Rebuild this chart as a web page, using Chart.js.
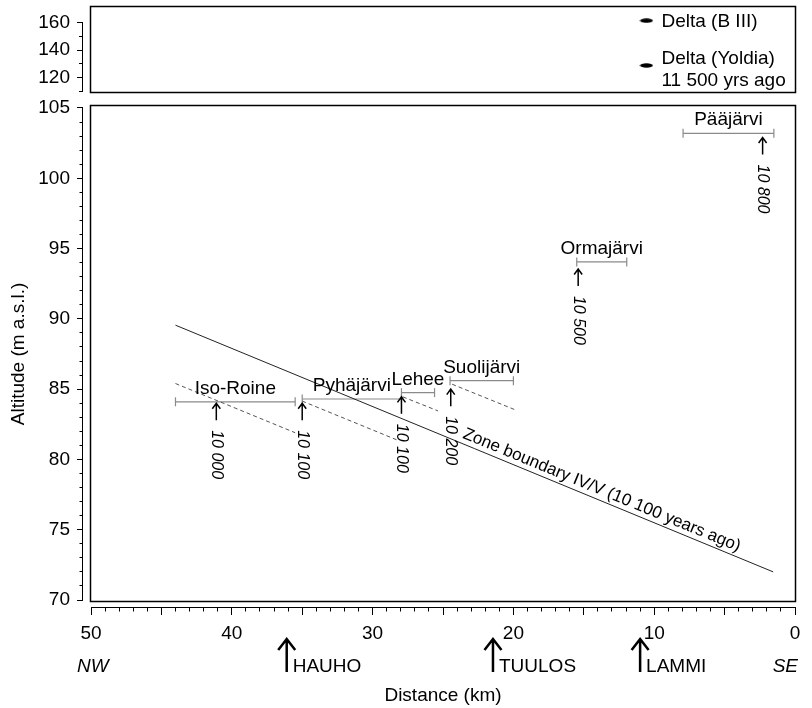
<!DOCTYPE html>
<html>
<head>
<meta charset="utf-8">
<script src="https://cdn.jsdelivr.net/npm/chart.js@4.4.1/dist/chart.umd.min.js"></script>
<style>
  html, body { margin: 0; padding: 0; background: #fff; }
  #wrap { width: 812px; height: 708px; }
</style>
</head>
<body>
<div id="wrap"><canvas id="profileChart" width="812" height="708"></canvas></div>
<script>
// lakes: range bar (distance from / to, km) and water level (m a.s.l.)
const lakes = ['Iso-Roine', 'Pyhäjärvi', 'Lehee', 'Suolijärvi', 'Ormajärvi', 'Pääjärvi'];
const lakeFrom = [44.0, 35.0, 27.95, 24.5, 15.5, 7.95];
const lakeTo = [35.5, 27.95, 25.6, 20.0, 11.95, 1.5];
const lakeLevel = [84.1, 84.3, 84.75, 85.6, 94.05, 103.2];

// dated shorelines (dashed)
const shoreFrom = [44.0, 35.0, 27.85, 24.35];
const shoreTo = [35.5, 28.3, 25.35, 19.8];
const shoreAltFrom = [85.4, 84.15, 84.45, 85.35];
const shoreAltTo = [81.9, 81.4, 83.45, 83.5];

// zone boundary IV/V
const zoneDist = [44.0, 1.55];
const zoneAlt = [89.55, 72.0];
const zoneLabel = 'Zone boundary IV/V (10 100 years ago)';
const zoneLabelDist = 14.0;

// dates (years ago) with arrow tips
const dateLabels = ['10 000', '10 100', '10 100', '10 200', '10 500', '10 800'];
const dateDist = [41.1, 35.0, 27.95, 24.45, 15.4, 2.3];
const dateAlt = [84.0, 84.0, 84.45, 85.0, 93.55, 102.9];

// deltas (upper panel)
const deltaLabels = [['Delta (B III)'], ['Delta (Yoldia)', '11 500 yrs ago']];
const deltaDist = [10.55, 10.55];
const deltaAlt = [161.5, 128.9];

// places under the distance axis
const towns = ['HAUHO', 'TUULOS', 'LAMMI'];
const townDist = [36.1, 21.45, 11.0];

// ticks
const xTicks = [50, 45, 40, 35, 30, 25, 20, 15, 10, 5, 0];
const xTickLabels = [50, 40, 30, 20, 10, 0];
const yTicks = [70, 75, 80, 85, 90, 95, 100, 105];
const yTopTicks = [120, 140, 160];
const yTopMinorTicks = [110, 130, 150];

const FONT = '"Liberation Sans", Arial, Helvetica, sans-serif';
const W = 812, H = 708;
const AREA = { left: 83, right: 795, top: 6, bottom: 607 };

// axis ranges from pixel anchors
function rangeFor(v1, p1, v2, p2) {
  const k = (p1 - p2) / (v2 - v1);
  return { min: v1 - (AREA.bottom - p1) / k, max: v2 + (p2 - AREA.top) / k };
}
const X_MAX = 50 * (AREA.right - AREA.left) / (AREA.right - 91);
const yMain = rangeFor(70, 600, 105, 108);
const yUp = rangeFor(120, 77.7, 160, 22.7);
const FRAME_X = [50.07, 0];
const FRAME_MAIN = [69.96, 105.22];
const FRAME_TOP = [109.5, 172.1];

function dash(w, h) {
  const c = document.createElement('canvas');
  c.width = w; c.height = h;
  const g = c.getContext('2d');
  g.fillStyle = '#000';
  g.beginPath();
  g.ellipse(w / 2, h / 2, w / 2 - 0.5, h / 2 - 0.3, 0, 0, Math.PI * 2);
  g.fill();
  return c;
}

const pts = (xs, ys) => xs.map((v, i) => ({ x: v, y: ys[i] }));

const datasets = [];
datasets.push({
  data: pts(zoneDist, zoneAlt), showLine: true, borderColor: '#222', borderWidth: 1,
  pointRadius: 0, yAxisID: 'y'
});
shoreFrom.forEach((d, i) => {
  datasets.push({
    data: [{ x: d, y: shoreAltFrom[i] }, { x: shoreTo[i], y: shoreAltTo[i] }],
    showLine: true, borderColor: '#555', borderWidth: 1, borderDash: [4, 3],
    pointRadius: 0, yAxisID: 'y'
  });
});
lakes.forEach((name, i) => {
  datasets.push({
    label: name,
    data: [{ x: lakeFrom[i], y: lakeLevel[i] }, { x: lakeTo[i], y: lakeLevel[i] }],
    showLine: true, borderColor: '#8a8a8a', borderWidth: 1.2,
    pointStyle: 'line', rotation: 90, pointRadius: 4.5,
    pointBorderColor: '#8a8a8a', pointBorderWidth: 1.2, yAxisID: 'y'
  });
});
datasets.push({
  data: pts(deltaDist, deltaAlt), showLine: false, yAxisID: 'yTop',
  pointStyle: [dash(14, 5), dash(14, 5)], pointRadius: 7
});

function noPadding(s) {
  s.paddingTop = 0; s.paddingBottom = 0; s.paddingLeft = 0; s.paddingRight = 0;
}

function tickAxis(pos, weight, extra) {
  return Object.assign({
    type: 'linear', position: pos, weight: weight,
    border: { display: false },
    grid: { drawOnChartArea: false, tickColor: '#000', tickWidth: 1 },
    ticks: { display: false, autoSkip: false }
  }, extra);
}

const annotations = {
  id: 'annotations',
  afterLayout(chart) {
    // the upper-panel axis shares the label strip with the main altitude axis
    const s = chart.scales.yTop;
    s.left = 0; s.right = AREA.left; s.width = AREA.left;
  },
  beforeDatasetsDraw(chart) {
    const { ctx, chartArea, scales: { x, y, yTop } } = chart;
    const L = Math.round(x.getPixelForValue(FRAME_X[0])) + 0.5;
    const R = Math.round(x.getPixelForValue(FRAME_X[1])) + 0.5;
    ctx.save();
    ctx.strokeStyle = '#000';
    ctx.lineWidth = 1.5;
    const t0 = Math.round(yTop.getPixelForValue(FRAME_TOP[1])) + 0.5;
    const t1 = Math.round(yTop.getPixelForValue(FRAME_TOP[0])) + 0.5;
    ctx.strokeRect(L, t0, R - L, t1 - t0);
    const m0 = Math.round(y.getPixelForValue(FRAME_MAIN[1])) + 0.5;
    const m1 = Math.round(y.getPixelForValue(FRAME_MAIN[0])) + 0.5;
    ctx.strokeRect(L, m0, R - L, m1 - m0);

    // axis lines
    ctx.lineWidth = 1;
    const ax = Math.round(chartArea.left) - 0.5;
    const ay = Math.round(chartArea.bottom) + 0.5;
    ctx.beginPath();
    ctx.moveTo(ax, y.getPixelForValue(70)); ctx.lineTo(ax, y.getPixelForValue(105));
    ctx.moveTo(ax, yTop.getPixelForValue(110)); ctx.lineTo(ax, yTop.getPixelForValue(160));
    ctx.moveTo(x.getPixelForValue(50), ay); ctx.lineTo(x.getPixelForValue(0), ay);
    ctx.stroke();
    ctx.restore();
  },
  afterDatasetsDraw(chart) {
    const { ctx, scales: { x, y, yTop } } = chart;
    ctx.save();
    ctx.fillStyle = '#000';
    ctx.strokeStyle = '#000';

    // lake names
    ctx.font = '19px ' + FONT;
    ctx.textAlign = 'center';
    ctx.textBaseline = 'alphabetic';
    lakes.forEach((name, i) => {
      const cx = (x.getPixelForValue(lakeFrom[i]) + x.getPixelForValue(lakeTo[i])) / 2;
      ctx.fillText(name, cx, y.getPixelForValue(lakeLevel[i]) - 8);
    });

    // dated arrows
    ctx.lineWidth = 1.5;
    dateLabels.forEach((lab, i) => {
      const px = x.getPixelForValue(dateDist[i]);
      const py = y.getPixelForValue(dateAlt[i]);
      ctx.beginPath();
      ctx.moveTo(px, py + 17); ctx.lineTo(px, py);
      ctx.moveTo(px - 4, py + 5.5); ctx.lineTo(px, py); ctx.lineTo(px + 4, py + 5.5);
      ctx.stroke();
      ctx.save();
      ctx.translate(px, py + 27);
      ctx.rotate(Math.PI / 2);
      ctx.font = 'italic 16px ' + FONT;
      ctx.textAlign = 'left';
      ctx.textBaseline = 'middle';
      ctx.fillText(lab, 0, 0);
      ctx.restore();
    });

    // zone boundary label
    const zx0 = x.getPixelForValue(zoneDist[0]), zy0 = y.getPixelForValue(zoneAlt[0]);
    const zx1 = x.getPixelForValue(zoneDist[1]), zy1 = y.getPixelForValue(zoneAlt[1]);
    const ang = Math.atan2(zy1 - zy0, zx1 - zx0);
    const f = (zoneLabelDist - zoneDist[0]) / (zoneDist[1] - zoneDist[0]);
    const lx = zx0 + f * (zx1 - zx0), ly = zy0 + f * (zy1 - zy0);
    ctx.save();
    ctx.translate(lx + Math.sin(ang) * 10, ly - Math.cos(ang) * 10);
    ctx.rotate(ang);
    ctx.font = '17px ' + FONT;
    ctx.textAlign = 'center';
    ctx.textBaseline = 'middle';
    ctx.fillText(zoneLabel, 0, 0);
    ctx.restore();

    // delta labels
    ctx.font = '19px ' + FONT;
    ctx.textAlign = 'left';
    ctx.textBaseline = 'middle';
    deltaLabels.forEach((lines, i) => {
      const px = x.getPixelForValue(deltaDist[i]) + 15;
      const py = yTop.getPixelForValue(deltaAlt[i]);
      if (lines.length === 1) ctx.fillText(lines[0], px, py + 1);
      else {
        ctx.fillText(lines[0], px, py - 7);
        ctx.fillText(lines[1], px, py + 15);
      }
    });

    // towns
    const base = 672;
    ctx.lineWidth = 2.5;
    ctx.textBaseline = 'alphabetic';
    towns.forEach((t, i) => {
      const px = x.getPixelForValue(townDist[i]);
      ctx.beginPath();
      ctx.moveTo(px, base); ctx.lineTo(px, 639);
      ctx.moveTo(px - 8.5, 650); ctx.lineTo(px, 639); ctx.lineTo(px + 8.5, 650);
      ctx.stroke();
      ctx.fillText(t, px + 6, base);
    });
    ctx.font = 'italic 19px ' + FONT;
    ctx.fillText('NW', 77, base);
    ctx.textAlign = 'right';
    ctx.fillText('SE', 798, base);

    // axis titles
    ctx.font = '19px ' + FONT;
    ctx.textAlign = 'center';
    ctx.fillText('Distance (km)', x.getPixelForValue(25), 701);
    ctx.save();
    ctx.translate(19, (y.getPixelForValue(70) + y.getPixelForValue(105)) / 2);
    ctx.rotate(-Math.PI / 2);
    ctx.textBaseline = 'middle';
    ctx.fillText('Altitude (m a.s.l.)', 0, 0);
    ctx.restore();
    ctx.restore();
  }
};

const tickFont = { family: FONT, size: 19 };

new Chart(document.getElementById('profileChart').getContext('2d'), {
  type: 'scatter',
  data: { datasets: datasets },
  options: {
    responsive: false,
    animation: false,
    devicePixelRatio: 1,
    layout: { autoPadding: false, padding: { top: AREA.top, right: W - AREA.right, left: 0, bottom: 0 } },
    plugins: { legend: { display: false }, tooltip: { enabled: false } },
    events: [],
    scales: {
      x: tickAxis('bottom', 1, {
        reverse: true, min: 0, max: X_MAX,
        afterBuildTicks: s => { s.ticks = xTicks.map(v => ({ value: v })); },
        afterFit: s => { s.height = H - AREA.bottom; noPadding(s); },
        grid: { drawOnChartArea: false, tickColor: '#000', tickWidth: 1, tickLength: 8 },
        ticks: { display: true, autoSkip: false, maxRotation: 0, padding: 7, color: '#000', font: tickFont,
          callback: v => xTickLabels.includes(v) ? String(v) : '' }
      }),
      xMinor: tickAxis('bottom', 0, {
        reverse: true, min: 0, max: X_MAX,
        ticks: { display: false, autoSkip: false, stepSize: 1 },
        afterBuildTicks: s => { s.ticks = s.ticks.filter(t => Number.isInteger(t.value) && t.value <= 50); },
        afterFit: s => { s.height = 0; noPadding(s); },
        grid: { drawOnChartArea: false, tickColor: '#000', tickWidth: 1, tickLength: 4.5 }
      }),
      y: tickAxis('left', 2, {
        min: yMain.min, max: yMain.max,
        afterBuildTicks: s => { s.ticks = yTicks.map(v => ({ value: v })); },
        afterFit: s => { s.width = AREA.left; noPadding(s); },
        grid: { drawOnChartArea: false, tickColor: '#000', tickWidth: 1, tickLength: 6 },
        ticks: { display: true, autoSkip: false, padding: 7, color: '#000', font: tickFont }
      }),
      yMinor: tickAxis('left', 1, {
        min: yMain.min, max: yMain.max,
        ticks: { display: false, autoSkip: false, stepSize: 1 },
        afterBuildTicks: s => { s.ticks = s.ticks.filter(t => Number.isInteger(t.value) && t.value >= 70 && t.value <= 105); },
        afterFit: s => { s.width = 0; noPadding(s); },
        grid: { drawOnChartArea: false, tickColor: '#000', tickWidth: 1, tickLength: 3.5 }
      }),
      yTop: tickAxis('left', 1, {
        min: yUp.min, max: yUp.max,
        afterBuildTicks: s => { s.ticks = yTopTicks.map(v => ({ value: v })); },
        afterFit: s => { s.width = 0; noPadding(s); },
        grid: { drawOnChartArea: false, tickColor: '#000', tickWidth: 1, tickLength: 6 },
        ticks: { display: true, autoSkip: false, padding: 7, color: '#000', font: tickFont }
      }),
      yTopMinor: tickAxis('left', 1, {
        min: yUp.min, max: yUp.max,
        afterBuildTicks: s => { s.ticks = yTopMinorTicks.map(v => ({ value: v })); },
        afterFit: s => { s.width = 0; noPadding(s); },
        grid: { drawOnChartArea: false, tickColor: '#000', tickWidth: 1, tickLength: 4 }
      })
    }
  },
  plugins: [annotations]
});
</script>
</body>
</html>
